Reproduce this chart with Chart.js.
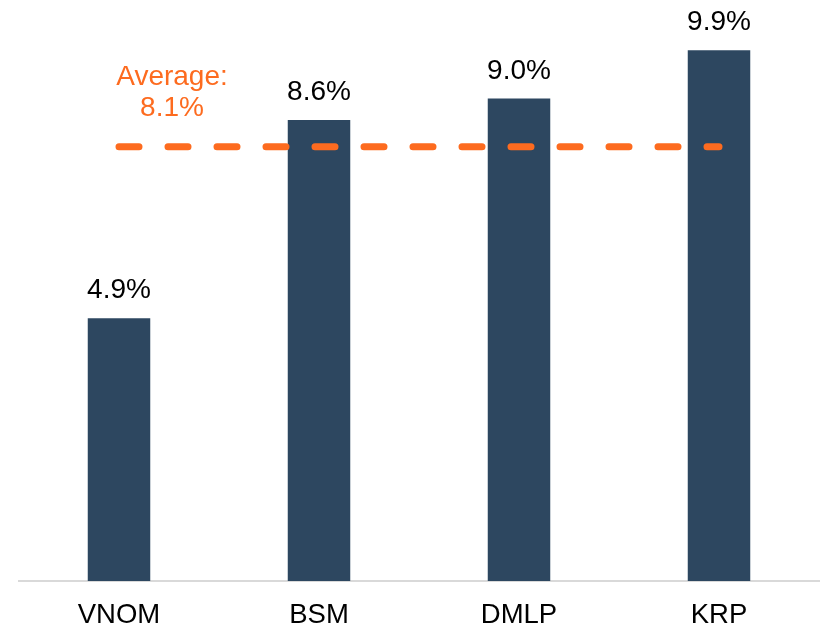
<!DOCTYPE html>
<html>
<head>
<meta charset="utf-8">
<script src="https://cdn.jsdelivr.net/npm/chart.js@4.4.1/dist/chart.umd.min.js"></script>
<style>
  html, body { margin: 0; padding: 0; background: #fff; }
  #wrap { width: 822px; height: 629px; }
</style>
</head>
<body>
<div id="wrap"><canvas id="yieldChart"></canvas></div>
<script>
const categories = ["VNOM", "BSM", "DMLP", "KRP"];
const yieldValues = [4.9, 8.6, 9.0, 9.9];
const averageValue = 8.1;
const averageLabel = ["Average:", "8.1%"];

const FONT = "'Liberation Sans', Arial, sans-serif";
const NAVY = "#2d4760";
const ORANGE = "#fd6b1f";

// value labels over each bar
const barLabels = {
  id: "barLabels",
  afterDatasetsDraw(chart) {
    const ctx = chart.ctx;
    const meta = chart.getDatasetMeta(0);
    ctx.save();
    ctx.font = "28px " + FONT;
    ctx.fillStyle = "#000";
    ctx.textAlign = "center";
    ctx.textBaseline = "alphabetic";
    meta.data.forEach((bar, i) => {
      ctx.fillText(yieldValues[i].toFixed(1) + "%", bar.x, bar.y - 20);
    });
    ctx.restore();
  }
};

// dashed average line + its label
const averageLine = {
  id: "averageLine",
  afterDatasetsDraw(chart) {
    const ctx = chart.ctx;
    const meta = chart.getDatasetMeta(0);
    const y = chart.scales.y.getPixelForValue(averageValue);
    const x0 = meta.data[0].x;
    const x1 = meta.data[meta.data.length - 1].x;
    ctx.save();
    ctx.strokeStyle = ORANGE;
    ctx.lineWidth = 7;
    ctx.lineCap = "round";
    ctx.setLineDash([20, 29]);
    ctx.beginPath();
    ctx.moveTo(x0, y);
    ctx.lineTo(x1, y);
    ctx.stroke();
    ctx.setLineDash([]);
    ctx.fillStyle = ORANGE;
    ctx.font = "28px " + FONT;
    ctx.textAlign = "center";
    const tx = x0 + 53;
    ctx.fillText(averageLabel[0], tx, y - 62);
    ctx.fillText(averageLabel[1], tx, y - 31);
    ctx.restore();
  }
};

new Chart(document.getElementById("yieldChart"), {
  type: "bar",
  data: {
    labels: categories,
    datasets: [{
      data: yieldValues,
      backgroundColor: NAVY,
      borderWidth: 0,
      categoryPercentage: 1,
      barPercentage: 0.3125
    }]
  },
  options: {
    responsive: true,
    maintainAspectRatio: false,
    animation: false,
    layout: { padding: { left: 19, right: 3, top: 2, bottom: 0 } },
    plugins: { legend: { display: false }, tooltip: { enabled: false } },
    scales: {
      x: {
        grid: { display: false, drawTicks: false },
        border: { display: true, color: "#d9d9d9", width: 2 },
        ticks: { color: "#000", font: { family: FONT, size: 27.5 }, padding: 17.5 },
        afterFit(scale) { scale.height = 48; }
      },
      y: {
        display: false,
        min: 0,
        max: 10.8
      }
    }
  },
  plugins: [barLabels, averageLine]
});
</script>
</body>
</html>
